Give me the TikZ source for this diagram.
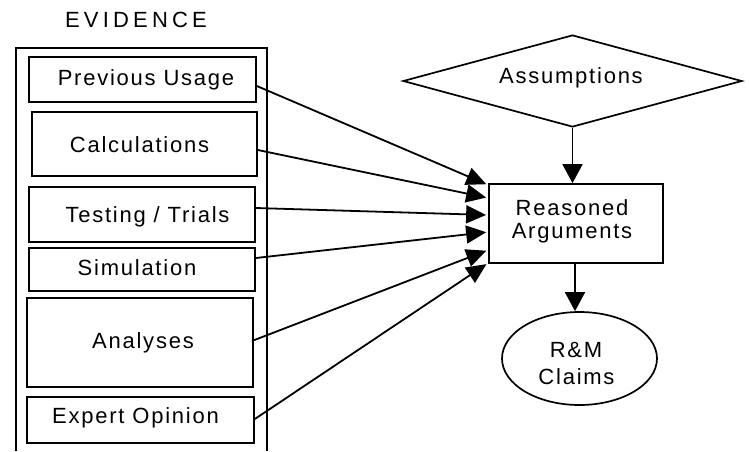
\documentclass[tikz,border=0pt]{standalone}
\usepackage{fontspec}
\setmainfont{Liberation Sans}[LetterSpace=8]
\newfontfamily\evfont{Liberation Sans}[LetterSpace=19]
\usetikzlibrary{shapes.geometric,arrows.meta}
\begin{document}
\begin{tikzpicture}[x=1pt,y=-1pt,
  ebox/.style={draw,line width=1.7pt,inner sep=0pt,rectangle},
  lbl/.style={anchor=base,inner sep=0pt,font=\fontsize{22}{24}\selectfont},
  arr/.style={line width=1.8pt,-{Triangle[length=19pt,width=20pt]}},
  con/.style={line width=1.8pt,shorten >=2pt,-{Triangle[length=20pt,width=18pt]}}]
\useasboundingbox (0,0) rectangle (749,451);
% container
\draw[line width=1.7pt] (16,451) -- (16,48) -- (267,48) -- (267,451);
\node[lbl,font=\evfont\fontsize{22}{24}\selectfont] (ev) at (136,27) {EVIDENCE};
% evidence boxes
\node[ebox,minimum width=227pt,minimum height=45pt] (pu) at (142.5,79.5) {};
\node[ebox,minimum width=225pt,minimum height=64pt] (calc) at (144.5,144) {};
\node[ebox,minimum width=226pt,minimum height=55pt] (test) at (142,214.5) {};
\node[ebox,minimum width=226pt,minimum height=43pt] (sim) at (142,269.5) {};
\node[ebox,minimum width=226pt,minimum height=89pt] (anal) at (140,342.5) {};
\node[ebox,minimum width=227pt,minimum height=46pt] (exp) at (140.5,420) {};
\node[lbl] (put) at (146,85) {Previous Usage};
\node[lbl] (calct) at (139.5,152) {Calculations};
\node[lbl] (testt) at (147.5,222) {Testing / Trials};
\node[lbl] (simt) at (137,275) {Simulation};
\node[lbl] (analt) at (143,348) {Analyses};
\node[lbl] (expt) at (135.5,423) {Expert Opinion};
% right side
\node[draw,diamond,line width=1.7pt,inner sep=0pt,minimum width=339pt,minimum height=92pt] (as) at (572.5,81) {};
\node[lbl] (ast) at (571,83) {Assumptions};
\node[ebox,minimum width=174pt,minimum height=79pt] (ra) at (576,223.5) {};
\node[lbl] (rat1) at (572,215) {Reasoned};
\node[lbl] (rat2) at (572,238) {Arguments};
\node[draw,ellipse,line width=1.7pt,inner sep=0pt,minimum width=155pt,minimum height=93pt] (rm) at (579.5,358.5) {};
\node[lbl] (rmt1) at (576,357) {R\&M};
\node[lbl] (rmt2) at (576.5,384) {Claims};
% connectors
\draw[con] ([yshift=-6.5pt]pu.east) -- ([yshift=38.5pt]ra.west);
\draw[con] ([yshift=-6pt]calc.east) -- ([yshift=25.5pt]ra.west);
\draw[con] ([yshift=6.5pt]test.east) -- ([yshift=8.5pt]ra.west);
\draw[con] ([yshift=11.5pt]sim.east) -- ([yshift=-8.5pt]ra.west);
\draw[con] ([yshift=1.5pt,xshift=-2pt]anal.east) -- ([yshift=-26.5pt]ra.west);
\draw[con] ([yshift=1pt]exp.east) -- ([yshift=-39.5pt]ra.west);
\draw[arr] (as.south) -- (as.south |- ra.north);
\draw[arr] ([xshift=-1pt]ra.south) -- ([xshift=-1pt]ra.south |- rm.north);
\end{tikzpicture}
\end{document}
